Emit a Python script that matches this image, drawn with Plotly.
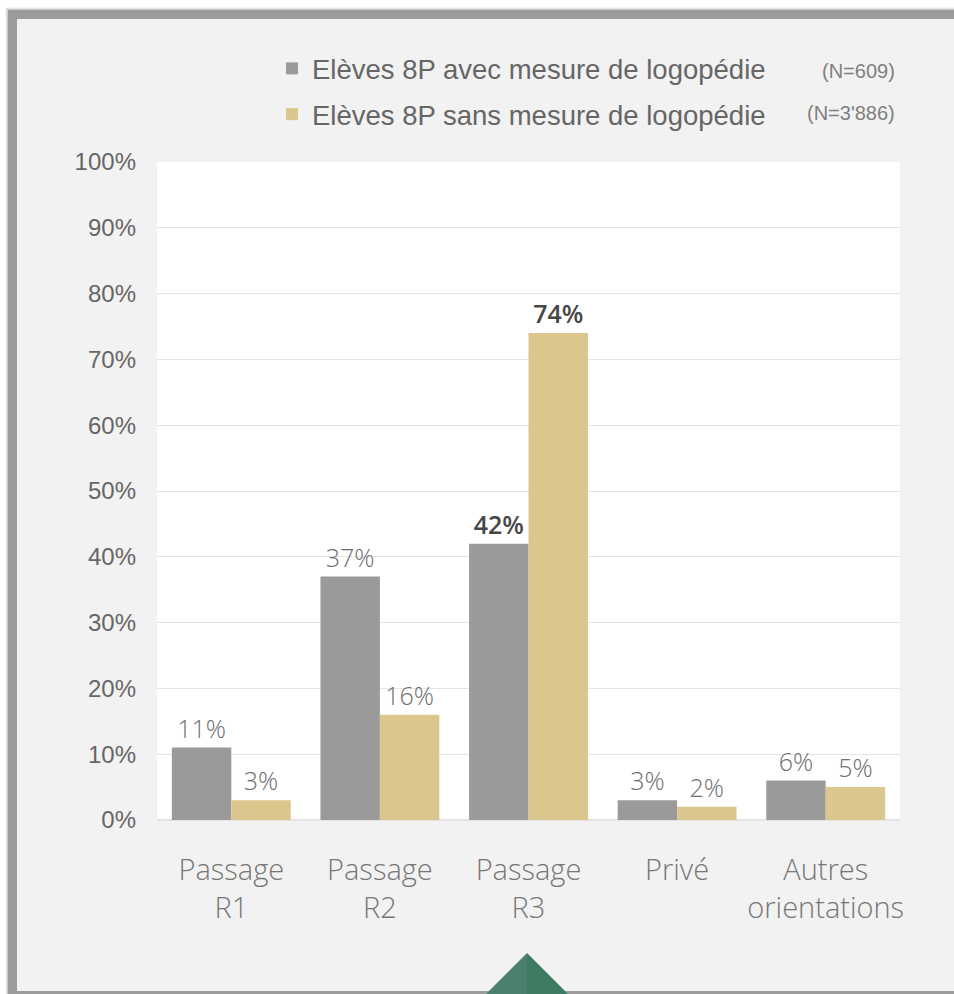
import plotly.graph_objects as go

categories = ["Passage<br>R1", "Passage<br>R2", "Passage<br>R3", "Privé", "Autres<br>orientations"]
avec_vals = [11, 37, 42, 3, 6]
sans_vals = [3, 16, 74, 2, 5]
avec_name = "Elèves 8P avec mesure de logopédie"
sans_name = "Elèves 8P sans mesure de logopédie"
avec_n = "(N=609)"
sans_n = "(N=3'886)"
y_ticks = [0, 10, 20, 30, 40, 50, 60, 70, 80, 90, 100]
y_tick_text = ["0%", "10%", "20%", "30%", "40%", "50%", "60%", "70%", "80%", "90%", "100%"]
bold_cat = "Passage<br>R3"

W, H = 954, 994
L, R, T, B = 157, 54, 162, 174
PW, PH = W - L - R, H - T - B

def px(x):
    return (x - L) / PW

def py(y):
    return (H - B - y) / PH

GRAY = "#9a9a9a"
GOLD = "#dbc68d"

fig = go.Figure()
for name, vals, col, grp in [(avec_name, avec_vals, GRAY, "a"), (sans_name, sans_vals, GOLD, "b")]:
    fig.add_trace(go.Bar(
        x=categories, y=vals, name=name, marker=dict(color=col, line=dict(width=0)),
        text=[f"{v}%" for v in vals], textposition="outside", cliponaxis=False,
        textfont=dict(family="Open Sans", size=25,
                      color=["#474747" if c == bold_cat else "#6e6e6e" for c in categories],
                      weight=[600 if c == bold_cat else 300 for c in categories]),
        legendgroup=grp, hoverinfo="skip",
    ))

shapes = []
for i, op in enumerate([0.04, 0.07, 0.11]):
    d = 3 - i
    shapes.append(dict(type="rect", xref="paper", yref="paper", layer="below",
                       x0=px(8 - d), x1=px(970), y0=py(10 - d), y1=py(1000),
                       fillcolor=f"rgba(0,0,0,{op})", line=dict(width=0)))
shapes.append(dict(type="rect", xref="paper", yref="paper", layer="below",
                   x0=px(8), x1=px(970), y0=py(10), y1=py(1000),
                   fillcolor="#9b9b9b", line=dict(width=0)))
shapes.append(dict(type="rect", xref="paper", yref="paper", layer="below",
                   x0=px(17), x1=px(970), y0=py(19), y1=py(991),
                   fillcolor="#f2f2f2", line=dict(width=0)))
shapes.append(dict(type="rect", xref="paper", yref="paper", layer="below",
                   x0=0, x1=1, y0=0, y1=1, fillcolor="#ffffff", line=dict(width=0)))
tri = f"M {px(527)},{py(953)} L {px(575)},{py(1001)} L {px(479)},{py(1001)} Z"
shapes.append(dict(type="path", xref="paper", yref="paper", path=tri, layer="above",
                   fillcolor="#3f7a63", line=dict(width=0)))
tri2 = f"M {px(527)},{py(953)} L {px(527)},{py(1001)} L {px(479)},{py(1001)} Z"
shapes.append(dict(type="path", xref="paper", yref="paper", path=tri2, layer="above",
                   fillcolor="rgba(255,255,255,0.06)", line=dict(width=0)))

annotations = [
    dict(x=px(897), y=py(71), xref="paper", yref="paper", text=avec_n, showarrow=False,
         xanchor="right", yanchor="middle", font=dict(family="Liberation Sans", size=20, color="#808080")),
    dict(x=px(897), y=py(113), xref="paper", yref="paper", text=sans_n, showarrow=False,
         xanchor="right", yanchor="middle", font=dict(family="Liberation Sans", size=20, color="#808080")),
]

fig.update_layout(
    width=W, height=H,
    margin=dict(l=L, r=R, t=T, b=B, autoexpand=False),
    paper_bgcolor="#ffffff", plot_bgcolor="#ffffff",
    barmode="group", bargap=0.2, bargroupgap=0,
    shapes=shapes, annotations=annotations,
    showlegend=True,
    legend=dict(x=px(272), y=py(44), xanchor="left", yanchor="top", xref="paper", yref="paper",
                orientation="v", traceorder="grouped", tracegroupgap=7,
                bgcolor="rgba(0,0,0,0)", itemclick=False, itemdoubleclick=False,
                font=dict(family="Liberation Sans", size=27.5, color="#666666")),
    xaxis=dict(showgrid=False, showline=False, ticks="", ticklabelstandoff=30,
               tickfont=dict(family="Open Sans", size=29, color="#777777", weight=300)),
    yaxis=dict(range=[0, 100], tickvals=y_ticks, ticktext=y_tick_text, showline=False, ticks="",
               gridcolor="#e4e4e4", gridwidth=1, zeroline=True, zerolinecolor="#e4e4e4",
               ticklabelstandoff=20,
               tickfont=dict(family="Liberation Sans", size=24, color="#666666")),
)

fig.write_html("out.html", config={"displayModeBar": False},
               post_script="document.body.style.margin='0';document.body.style.overflow='hidden';")
